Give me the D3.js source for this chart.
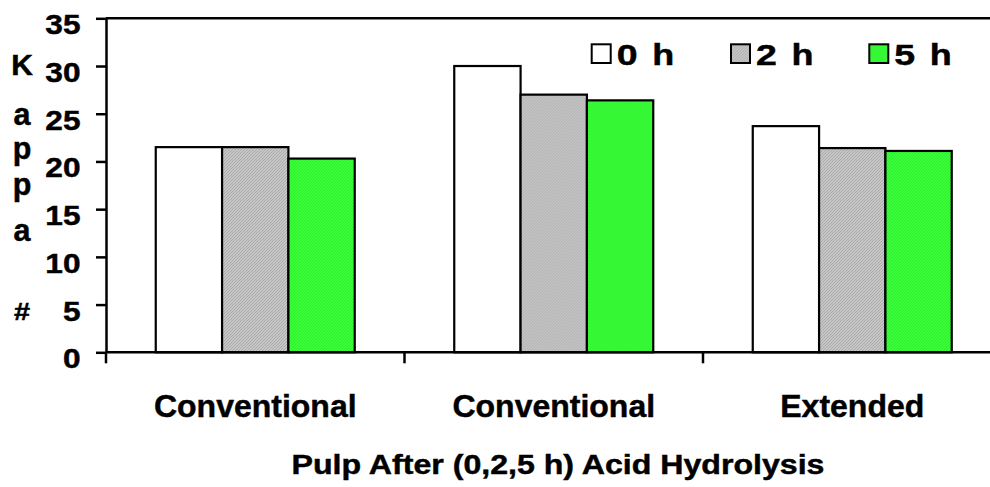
<!DOCTYPE html>
<html>
<head>
<meta charset="utf-8">
<script src="https://cdn.jsdelivr.net/npm/d3@7"></script>
<style>
  html, body { margin: 0; padding: 0; background: #fff; }
  svg { display: block; font-family: "Liberation Sans", Arial, sans-serif; font-weight: bold; }
  text { stroke: #000; stroke-width: 0.45px; fill: #000; }
</style>
</head>
<body>
<svg id="chart" width="990" height="487"></svg>
<script>
// Kappa number of pulps after 0, 2 and 5 h of acid hydrolysis
const categories = ["Conventional", "Conventional", "Extended"];
const seriesNames = ["0  h", "2  h", "5  h"];
const kappa0h = [21.5, 30.0, 23.7];
const kappa2h = [21.5, 27.0, 21.4];
const kappa5h = [20.3, 26.4, 21.1];
const yTicks = [0, 5, 10, 15, 20, 25, 30, 35];
const yTitleChars = ["K", "a", "p", "p", "a", "", "#"];
const xTitle = "Pulp After (0,2,5 h) Acid Hydrolysis";

const series = [kappa0h, kappa2h, kappa5h];
const fills = ["#ffffff", "url(#hatchGray)", "url(#hatchGreen)"];

const svg = d3.select("#chart");
const defs = svg.append("defs");

function hatch(id, base, line) {
  const p = defs.append("pattern").attr("id", id)
    .attr("patternUnits", "userSpaceOnUse").attr("width", 3).attr("height", 3);
  p.append("rect").attr("width", 3).attr("height", 3).attr("fill", base);
  p.append("path").attr("d", "M0,3 L3,0 M-1,1 L1,-1 M2,4 L4,2")
    .attr("stroke", line).attr("stroke-width", 0.8);
}
hatch("hatchGray", "#c6c6c6", "#a4a4a4");
hatch("hatchGreen", "#38ff38", "#2ee62e");

const plotLeft = 106, plotTop = 18.3, plotBottom = 352.3, bandW = 298.5;

const x = d3.scaleBand()
  .domain(d3.range(categories.length))
  .range([plotLeft, plotLeft + bandW * categories.length])
  .paddingInner(0).paddingOuter(0);

const barW = x.bandwidth() / 4.5;
const xs = d3.scaleBand()
  .domain(d3.range(series.length))
  .range([barW * 0.75, barW * 0.75 + barW * series.length]);

const y = d3.scaleLinear().domain([0, 35]).range([plotBottom, plotTop]);

// Top border of the plot area
svg.append("line")
  .attr("x1", plotLeft).attr("x2", 990)
  .attr("y1", y(35)).attr("y2", y(35))
  .attr("stroke", "#000").attr("stroke-width", 2.5);

// Bars
const groups = svg.append("g").selectAll("g")
  .data(categories.map((c, i) => i))
  .join("g")
  .attr("transform", i => `translate(${x(i)},0)`);

groups.selectAll("rect")
  .data(i => series.map((s, k) => ({ k, v: s[i] })))
  .join("rect")
  .attr("x", d => xs(d.k))
  .attr("width", xs.bandwidth())
  .attr("y", d => y(d.v))
  .attr("height", d => y(0) - y(d.v))
  .attr("fill", d => fills[d.k])
  .attr("stroke", "#000")
  .attr("stroke-width", 2.2);

// Y axis
const yAxis = svg.append("g")
  .attr("transform", `translate(${plotLeft},0)`)
  .call(d3.axisLeft(y).tickValues(yTicks).tickSize(10).tickSizeOuter(0));
yAxis.select(".domain").attr("stroke-width", 2.5);
yAxis.selectAll(".tick line").attr("stroke-width", 2.5);
yAxis.selectAll(".tick text")
  .attr("x", 0).attr("dy", null)
  .attr("transform", "translate(-25.5,15.5) scale(1.15,1)")
  .attr("font-size", 27.5).attr("font-weight", "bold")
  .attr("font-family", "Liberation Sans, Arial, sans-serif");

// X axis baseline and category dividers
const xAxis = svg.append("g")
  .attr("transform", `translate(0,${plotBottom})`)
  .call(d3.axisBottom(x).tickValues([]).tickSizeOuter(0));
xAxis.select(".domain").attr("d", `M${plotLeft},0H990`).attr("stroke-width", 2.5);
xAxis.selectAll(".divider")
  .data(d3.range(categories.length))
  .join("line")
  .attr("x1", i => x(i)).attr("x2", i => x(i))
  .attr("y1", 0).attr("y2", 11)
  .attr("stroke", "#000").attr("stroke-width", 2.5);

// Category labels
svg.append("g").selectAll("text")
  .data(categories)
  .join("text")
  .attr("transform", (c, i) => `translate(${x(i) + x.bandwidth() / 2},416.7)`)
  .attr("text-anchor", "middle")
  .attr("font-size", 32)
  .text(c => c);

// X axis title
svg.append("text")
  .attr("transform", "translate(558,474.3) scale(1.19,1)")
  .attr("text-anchor", "middle")
  .attr("font-size", 27)
  .text(xTitle);

// Y axis title, one character per line
const yTitleBase = [75, 124.5, 159, 195, 241, 281, 320];
svg.append("g").selectAll("text")
  .data(yTitleChars)
  .join("text")
  .attr("transform", (c, i) => `translate(22,${yTitleBase[i]})` + (c === "#" ? " scale(1.2,1)" : ""))
  .attr("text-anchor", "middle")
  .attr("font-size", c => c === "#" ? 24 : (/[a-z]/.test(c) ? 30.5 : 30))
  .text(c => c);

// Legend
const legendX = [590.7, 730, 868.3];
const legend = svg.append("g").selectAll("g")
  .data(seriesNames)
  .join("g")
  .attr("transform", (d, i) => `translate(${legendX[i]},43.3)`);
legend.append("rect")
  .attr("x", 1).attr("y", 1)
  .attr("width", 19).attr("height", 18.7)
  .attr("fill", (d, i) => fills[i])
  .attr("stroke", "#000").attr("stroke-width", 2);
legend.append("text")
  .attr("transform", "translate(26,21.7) scale(1.25,1)")
  .attr("font-size", 30)
  .text(d => d.split(/\s+/)[0]);
legend.append("text")
  .attr("transform", "translate(61.5,21.7) scale(1.2,1)")
  .attr("font-size", 30)
  .text(d => d.split(/\s+/)[1]);
</script>
</body>
</html>
